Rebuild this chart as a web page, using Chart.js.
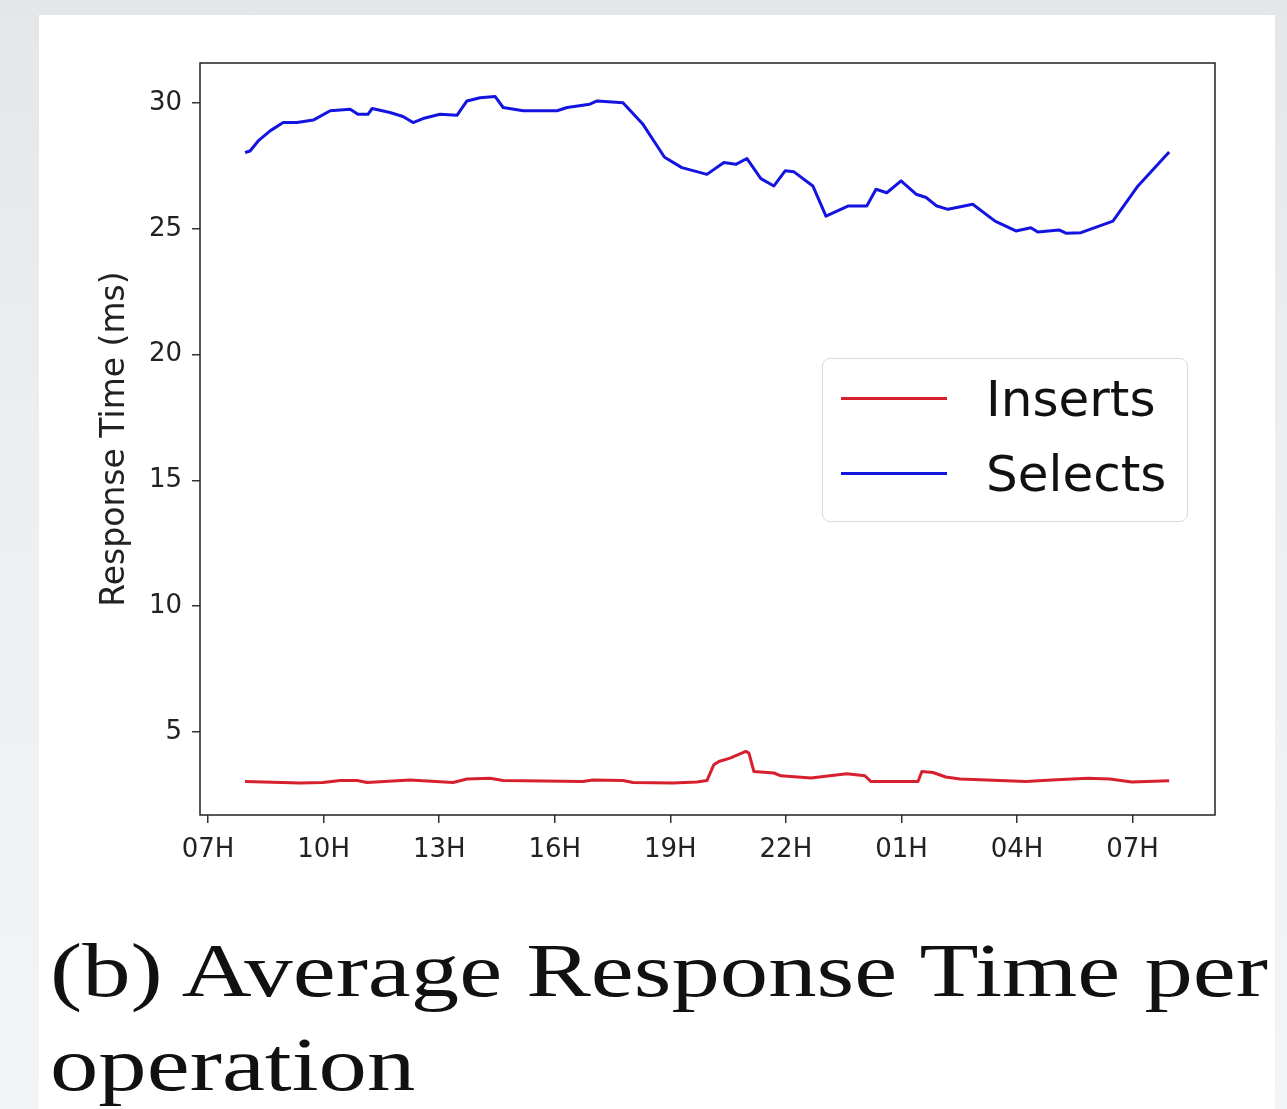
<!DOCTYPE html>
<html lang="en">
<head>
    <meta charset="UTF-8">
    <title>Average Response Time per operation</title>
    <script src="https://cdn.jsdelivr.net/npm/chart.js"></script>
    <style>
        html, body { margin: 0; padding: 0; }
        body {
            width: 1287px; height: 1109px; overflow: hidden; position: relative;
            background: linear-gradient(to bottom, #e4e7ea 0%, #eceef0 40%, #f3f4f6 100%);
            font-family: "DejaVu Sans", sans-serif;
        }
        #card { position: absolute; left: 39px; top: 15px; width: 1236px; height: 1094px; background: #fff; overflow: hidden; }
        #wrap { position: absolute; left: 0; top: 0; width: 1236px; height: 880px; }
        #legend {
            position: absolute; left: 783px; top: 343px; width: 364px; height: 162px;
            border: 1.5px solid #d9d9d9; border-radius: 8px; background: rgba(255,255,255,0.85);
        }
        .item { position: absolute; left: 0; width: 100%; height: 60px; }
        .item .swatch { position: absolute; left: 18px; top: 28px; width: 106px; height: 3px; }
        .item .txt { position: absolute; left: 163px; top: 0; font-size: 50px; line-height: 60px; color: #111; }
        .cap { position: absolute; left: 11px; font-family: "Liberation Serif", serif; font-size: 76px;
               line-height: 95px; color: #111; white-space: nowrap; transform-origin: 0 0; }
    </style>
</head>
<body>
<div id="card">
    <div id="wrap"><canvas id="chart"></canvas></div>
    <div id="legend"></div>
    <div class="cap" id="cap1" style="top:908px">(b) Average Response Time per</div>
    <div class="cap" id="cap2" style="top:1002px">operation</div>
</div>
<script>
    // hours since 07H on the first day
    const selectHours = [0.96, 1.09, 1.30, 1.61, 1.95, 2.31, 2.73, 3.17, 3.69, 3.89, 4.15, 4.26, 4.72, 5.06, 5.32, 5.58,
        6.02, 6.46, 6.72, 7.06, 7.45, 7.66, 8.18, 9.06, 9.32, 9.91, 10.10, 10.77, 11.29, 11.85, 12.30, 12.95, 13.39,
        13.70, 13.99, 14.35, 14.69, 14.98, 15.21, 15.70, 16.04, 16.61, 17.10, 17.34, 17.62, 17.99, 18.38, 18.64,
        18.92, 19.21, 19.85, 20.43, 20.97, 21.36, 21.54, 22.09, 22.27, 22.66, 23.49, 24.14, 24.95];
    const selectValues = [28.04, 28.1, 28.5, 28.9, 29.23, 29.23, 29.33, 29.7, 29.76, 29.56, 29.56, 29.79, 29.63, 29.47,
        29.23, 29.39, 29.56, 29.52, 30.09, 30.22, 30.27, 29.83, 29.7, 29.7, 29.83, 29.96, 30.09, 30.02, 29.16, 27.85,
        27.44, 27.17, 27.64, 27.57, 27.8, 27.0, 26.71, 27.31, 27.27, 26.71, 25.51, 25.91, 25.91, 26.58, 26.44, 26.91,
        26.38, 26.25, 25.91, 25.78, 25.98, 25.31, 24.92, 25.05, 24.88, 24.96, 24.83, 24.85, 25.31, 26.71, 28.06];

    const insertHours = [0.96, 2.39, 2.98, 3.43, 3.87, 4.13, 5.24, 6.36, 6.72, 7.32, 7.66, 8.18, 9.73, 9.99, 10.77,
        11.03, 12.07, 12.69, 12.95, 13.13, 13.26, 13.55, 13.96, 14.04, 14.17, 14.69, 14.87, 15.65, 16.58, 17.05,
        17.21, 18.43, 18.53, 18.82, 19.15, 19.52, 21.23, 21.90, 22.84, 23.41, 23.98, 24.95];
    const insertValues = [3.02, 2.96, 2.98, 3.06, 3.06, 2.98, 3.08, 2.98, 3.12, 3.15, 3.06, 3.05, 3.02, 3.08, 3.06,
        2.98, 2.96, 3.0, 3.06, 3.69, 3.82, 3.95, 4.22, 4.15, 3.42, 3.36, 3.25, 3.16, 3.33, 3.25, 3.02, 3.02, 3.42,
        3.38, 3.2, 3.12, 3.02, 3.08, 3.15, 3.12, 3.0, 3.05];

    const xTicks = [0, 3, 6, 9, 12, 15, 18, 21, 24];
    const yTicks = [5, 10, 15, 20, 25, 30];
    const startHour = 7;

    const toPoints = (xs, ys) => xs.map((x, i) => ({ x: x, y: ys[i] }));

    const frame = {
        id: 'frame',
        afterDatasetsDraw(chart) {
            const a = chart.chartArea, ctx = chart.ctx;
            ctx.save();
            ctx.strokeStyle = '#222';
            ctx.lineWidth = 1.5;
            ctx.strokeRect(a.left, a.top, a.right - a.left, a.bottom - a.top);
            ctx.restore();
        }
    };

    const tickFont = { family: 'DejaVu Sans', size: 26 };
    const chart = new Chart(document.getElementById('chart'), {
        type: 'line',
        data: {
            datasets: [{
                label: 'Inserts',
                data: toPoints(insertHours, insertValues),
                borderColor: '#d7202e',
                borderWidth: 3
            }, {
                label: 'Selects',
                data: toPoints(selectHours, selectValues),
                borderColor: '#1414e0',
                borderWidth: 3
            }]
        },
        options: {
            responsive: true,
            maintainAspectRatio: false,
            animation: false,
            layout: { padding: { left: 0, right: 60, top: 48, bottom: 0 } },
            elements: { point: { radius: 0 }, line: { tension: 0, borderJoinStyle: 'round' } },
            plugins: { legend: { display: false }, tooltip: { enabled: false } },
            scales: {
                x: {
                    type: 'linear', min: -0.21, max: 26.14,
                    afterBuildTicks: s => { s.ticks = xTicks.map(v => ({ value: v })); },
                    afterFit: s => { s.height = 80; },
                    border: { display: false },
                    grid: { drawOnChartArea: false, drawTicks: true, tickLength: 8, color: '#333', lineWidth: 1.5 },
                    ticks: {
                        color: '#222', font: tickFont, padding: 12, maxRotation: 0,
                        callback: v => String((startHour + v) % 24).padStart(2, '0') + 'H'
                    }
                },
                y: {
                    min: 1.69, max: 31.6,
                    afterBuildTicks: s => { s.ticks = yTicks.map(v => ({ value: v })); },
                    afterFit: s => { s.width = 161; },
                    border: { display: false },
                    grid: { drawOnChartArea: false, drawTicks: true, tickLength: 8, color: '#333', lineWidth: 1.5 },
                    ticks: { color: '#222', font: tickFont, padding: 10 },
                    title: {
                        display: true, text: 'Response Time (ms)', color: '#222',
                        font: { family: 'DejaVu Sans', size: 33 }, padding: { top: 57, bottom: 0 }
                    }
                }
            }
        },
        plugins: [frame]
    });

    // legend built from the chart's datasets
    const legend = document.getElementById('legend');
    chart.data.datasets.forEach((ds, i) => {
        const item = document.createElement('div');
        item.className = 'item';
        item.style.top = (10 + i * 75) + 'px';
        item.innerHTML = '<div class="swatch" style="background:' + ds.borderColor + '"></div>' +
            '<div class="txt">' + ds.label + '</div>';
        legend.appendChild(item);
    });

    // stretch caption to the width of the original
    const cap1 = document.getElementById('cap1'), cap2 = document.getElementById('cap2');
    const k = 1218 / cap1.getBoundingClientRect().width;
    cap1.style.transform = 'scaleX(' + k + ')';
    cap2.style.transform = 'scaleX(' + k + ')';
</script>
</body>
</html>
